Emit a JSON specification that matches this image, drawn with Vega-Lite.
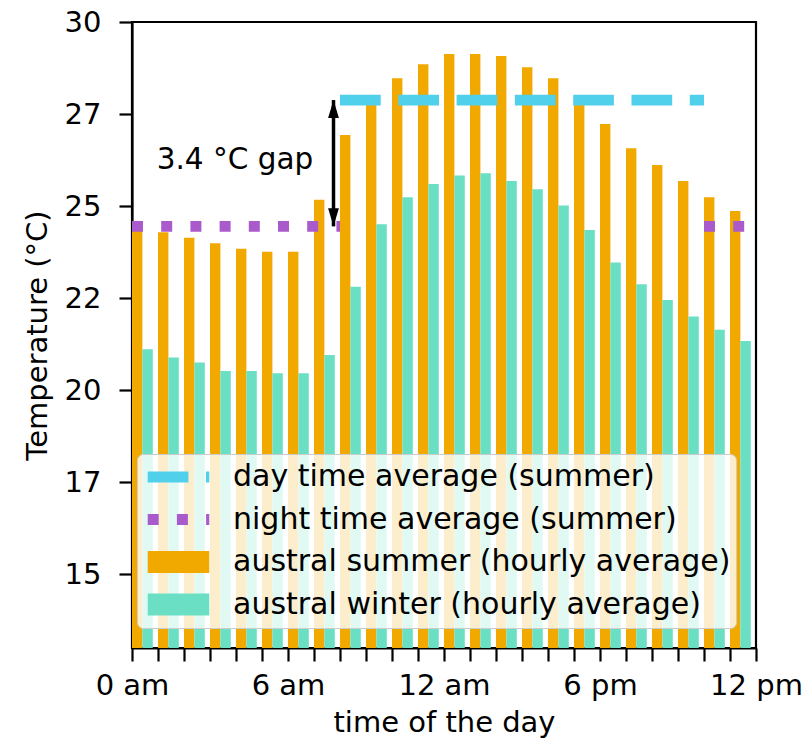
{
  "$schema": "https://vega.github.io/schema/vega-lite/v6.json",
  "width": 624,
  "height": 626,
  "autosize": {"type": "none"},
  "padding": {"left": 132, "top": 22, "right": 54, "bottom": 94},
  "background": "white",
  "config": {
    "view": {"stroke": "black", "strokeWidth": 2.2},
    "font": "DejaVu Sans",
    "axis": {
      "grid": false,
      "domainColor": "black",
      "domainWidth": 2.2,
      "tickColor": "black",
      "tickWidth": 2.2,
      "tickSize": 13,
      "labelFont": "DejaVu Sans",
      "labelFontSize": 29,
      "labelColor": "black",
      "titleFont": "DejaVu Sans",
      "titleFontSize": 29,
      "titleFontWeight": "normal",
      "titleColor": "black",
      "labelOverlap": false,
      "labelFlush": false,
      "labelBound": false
    }
  },
  "datasets": {
    "bars": [
      {"hour": 0, "temp": 24.4, "series": "austral summer (hourly average)"},
      {"hour": 1, "temp": 24.29, "series": "austral summer (hourly average)"},
      {"hour": 2, "temp": 24.14, "series": "austral summer (hourly average)"},
      {"hour": 3, "temp": 23.99, "series": "austral summer (hourly average)"},
      {"hour": 4, "temp": 23.84, "series": "austral summer (hourly average)"},
      {"hour": 5, "temp": 23.76, "series": "austral summer (hourly average)"},
      {"hour": 6, "temp": 23.76, "series": "austral summer (hourly average)"},
      {"hour": 7, "temp": 25.17, "series": "austral summer (hourly average)"},
      {"hour": 8, "temp": 26.93, "series": "austral summer (hourly average)"},
      {"hour": 9, "temp": 27.8, "series": "austral summer (hourly average)"},
      {"hour": 10, "temp": 28.47, "series": "austral summer (hourly average)"},
      {"hour": 11, "temp": 28.85, "series": "austral summer (hourly average)"},
      {"hour": 12, "temp": 29.13, "series": "austral summer (hourly average)"},
      {"hour": 13, "temp": 29.13, "series": "austral summer (hourly average)"},
      {"hour": 14, "temp": 29.08, "series": "austral summer (hourly average)"},
      {"hour": 15, "temp": 28.77, "series": "austral summer (hourly average)"},
      {"hour": 16, "temp": 28.47, "series": "austral summer (hourly average)"},
      {"hour": 17, "temp": 27.85, "series": "austral summer (hourly average)"},
      {"hour": 18, "temp": 27.23, "series": "austral summer (hourly average)"},
      {"hour": 19, "temp": 26.57, "series": "austral summer (hourly average)"},
      {"hour": 20, "temp": 26.12, "series": "austral summer (hourly average)"},
      {"hour": 21, "temp": 25.68, "series": "austral summer (hourly average)"},
      {"hour": 22, "temp": 25.24, "series": "austral summer (hourly average)"},
      {"hour": 23, "temp": 24.87, "series": "austral summer (hourly average)"},
      {"hour": 0, "temp": 21.11, "series": "austral winter (hourly average)"},
      {"hour": 1, "temp": 20.89, "series": "austral winter (hourly average)"},
      {"hour": 2, "temp": 20.75, "series": "austral winter (hourly average)"},
      {"hour": 3, "temp": 20.52, "series": "austral winter (hourly average)"},
      {"hour": 4, "temp": 20.52, "series": "austral winter (hourly average)"},
      {"hour": 5, "temp": 20.46, "series": "austral winter (hourly average)"},
      {"hour": 6, "temp": 20.46, "series": "austral winter (hourly average)"},
      {"hour": 7, "temp": 20.96, "series": "austral winter (hourly average)"},
      {"hour": 8, "temp": 22.81, "series": "austral winter (hourly average)"},
      {"hour": 9, "temp": 24.51, "series": "austral winter (hourly average)"},
      {"hour": 10, "temp": 25.24, "series": "austral winter (hourly average)"},
      {"hour": 11, "temp": 25.6, "series": "austral winter (hourly average)"},
      {"hour": 12, "temp": 25.83, "series": "austral winter (hourly average)"},
      {"hour": 13, "temp": 25.89, "series": "austral winter (hourly average)"},
      {"hour": 14, "temp": 25.68, "series": "austral winter (hourly average)"},
      {"hour": 15, "temp": 25.46, "series": "austral winter (hourly average)"},
      {"hour": 16, "temp": 25.02, "series": "austral winter (hourly average)"},
      {"hour": 17, "temp": 24.35, "series": "austral winter (hourly average)"},
      {"hour": 18, "temp": 23.47, "series": "austral winter (hourly average)"},
      {"hour": 19, "temp": 22.88, "series": "austral winter (hourly average)"},
      {"hour": 20, "temp": 22.45, "series": "austral winter (hourly average)"},
      {"hour": 21, "temp": 22.0, "series": "austral winter (hourly average)"},
      {"hour": 22, "temp": 21.64, "series": "austral winter (hourly average)"},
      {"hour": 23, "temp": 21.34, "series": "austral winter (hourly average)"}
    ],
    "lines": [
      {"start": 8, "end": 22, "temp": 27.88, "series": "day time average (summer)"},
      {"start": 0, "end": 8, "temp": 24.45, "series": "night time average (summer)"},
      {"start": 22, "end": 24, "temp": 24.45, "series": "night time average (summer)"}
    ],
    "arrow": [
      {"x": 7.75, "top": 27.88, "bottom": 24.45}
    ],
    "note": [
      {"x": 3.96, "y": 26.25, "label": "3.4 °C gap"}
    ]
  },
  "layer": [
    {
      "data": {"name": "bars"},
      "transform": [{"filter": "datum.series == 'austral summer (hourly average)'"}],
      "mark": {"type": "bar", "width": 10.4, "xOffset": 5.2, "clip": true},
      "encoding": {
        "x": {
          "field": "hour", "type": "quantitative",
          "scale": {"domain": [0, 24], "nice": false, "zero": false, "padding": 0},
          "title": "time of the day",
          "axis": {
            "values": [0,1,2,3,4,5,6,7,8,9,10,11,12,13,14,15,16,17,18,19,20,21,22,23,24],
            "tickCount": 30,
            "labelExpr": "datum.value == 0 ? '0 am' : datum.value == 6 ? '6 am' : datum.value == 12 ? '12 am' : datum.value == 18 ? '6 pm' : datum.value == 24 ? '12 pm' : ''",
            "labelPadding": 10,
            "titlePadding": 8
          }
        },
        "y": {
          "field": "temp", "type": "quantitative",
          "scale": {"domain": [13, 30], "nice": false, "zero": false, "padding": 0},
          "title": "Temperature (°C)",
          "axis": {
            "values": [15, 17.5, 20, 22.5, 25, 27.5, 30],
            "tickCount": 10,
            "labelExpr": "'' + floor(datum.value)",
            "labelPadding": 18,
            "titlePadding": 12
          }
        },
        "y2": {"datum": 13},
        "color": {
          "field": "series", "type": "nominal",
          "scale": {
            "domain": ["day time average (summer)", "night time average (summer)", "austral summer (hourly average)", "austral winter (hourly average)"],
            "range": ["#50D0EB", "#A95BCB", "#F1A900", "#6ADFC3"]
          },
          "legend": {
            "title": null,
            "orient": "none",
            "legendX": 5,
            "legendY": 432,
            "fillColor": "rgba(255,255,255,0.8)",
            "strokeColor": "#cccccc",
            "cornerRadius": 6,
            "padding": 5,
            "clipHeight": 36,
            "symbolSize": 400,
            "symbolStrokeWidth": 10.8,
            "symbolOffset": 21,
            "labelFont": "DejaVu Sans",
            "labelFontSize": 30,
            "labelColor": "black",
            "labelOffset": 39,
            "labelLimit": 0,
            "labelExpr": "datum.label + ' '",
            "rowPadding": 6.5,
            "encode": {
              "symbols": {
                "update": {
                  "shape": {"signal": "indexof(datum.value, 'austral') >= 0 ? 'M-2.54,-0.56H2.54V0.56H-2.54Z' : 'M-3.08,0H3.08'"},
                  "fill": {"signal": "scale('color', datum.value)"},
                  "stroke": {"signal": "scale('color', datum.value)"},
                  "strokeDash": {"signal": "indexof(datum.value, 'day') == 0 ? [40.7, 17.6] : (indexof(datum.value, 'night') == 0 ? [11, 18.2] : [])"},
                  "strokeCap": {"value": "butt"},
                  "strokeJoin": {"value": "miter"},
                  "opacity": {"value": 1}
                }
              }
            }
          }
        }
      }
    },
    {
      "data": {"name": "bars"},
      "transform": [{"filter": "datum.series == 'austral winter (hourly average)'"}],
      "mark": {"type": "bar", "width": 10.4, "xOffset": 15.6, "clip": true},
      "encoding": {
        "x": {"field": "hour", "type": "quantitative"},
        "y": {"field": "temp", "type": "quantitative"},
        "y2": {"datum": 13},
        "color": {"field": "series", "type": "nominal", "legend": null}
      }
    },
    {
      "data": {"name": "lines"},
      "transform": [{"filter": "datum.series == 'day time average (summer)'"}],
      "mark": {"type": "rule", "strokeWidth": 10.8, "strokeDash": [40.7, 17.6], "strokeCap": "butt"},
      "encoding": {
        "x": {"field": "start", "type": "quantitative"},
        "x2": {"field": "end"},
        "y": {"field": "temp", "type": "quantitative"},
        "color": {"field": "series", "type": "nominal", "legend": null}
      }
    },
    {
      "data": {"name": "lines"},
      "transform": [{"filter": "datum.series == 'night time average (summer)'"}],
      "mark": {"type": "rule", "strokeWidth": 10.8, "strokeDash": [11, 18.2], "strokeCap": "butt"},
      "encoding": {
        "x": {"field": "start", "type": "quantitative"},
        "x2": {"field": "end"},
        "y": {"field": "temp", "type": "quantitative"},
        "color": {"field": "series", "type": "nominal", "legend": null}
      }
    },
    {
      "data": {"name": "arrow"},
      "mark": {"type": "rule", "color": "black", "strokeWidth": 3.5},
      "encoding": {
        "x": {"field": "x", "type": "quantitative"},
        "y": {"field": "top", "type": "quantitative"},
        "y2": {"field": "bottom"}
      }
    },
    {
      "data": {"name": "arrow"},
      "mark": {"type": "point", "filled": true, "color": "black", "opacity": 1, "size": 324, "shape": "M0,-1L0.6,1L-0.6,1Z", "yOffset": 9},
      "encoding": {
        "x": {"field": "x", "type": "quantitative"},
        "y": {"field": "top", "type": "quantitative"}
      }
    },
    {
      "data": {"name": "arrow"},
      "mark": {"type": "point", "filled": true, "color": "black", "opacity": 1, "size": 324, "shape": "M0,1L0.6,-1L-0.6,-1Z", "yOffset": -9},
      "encoding": {
        "x": {"field": "x", "type": "quantitative"},
        "y": {"field": "bottom", "type": "quantitative"}
      }
    },
    {
      "data": {"name": "note"},
      "mark": {"type": "text", "font": "DejaVu Sans", "fontSize": 29.5, "color": "black", "align": "center", "baseline": "middle"},
      "encoding": {
        "x": {"field": "x", "type": "quantitative"},
        "y": {"field": "y", "type": "quantitative"},
        "text": {"field": "label"}
      }
    }
  ]
}
